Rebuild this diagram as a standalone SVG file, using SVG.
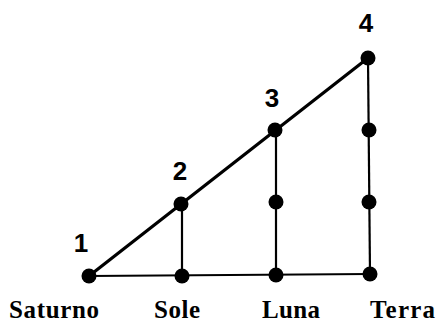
<svg xmlns="http://www.w3.org/2000/svg" width="436" height="322" viewBox="0 0 436 322">
<style>
.num{font-family:"Liberation Sans",Arial,sans-serif;font-weight:bold;font-size:26px;text-anchor:middle;fill:#000}
.lbl{font-family:"Liberation Serif","Times New Roman",serif;font-weight:bold;font-size:25px;fill:#000}
.dot{fill:#000}
.thick{stroke:#000;stroke-width:3.2;fill:none;stroke-linecap:round}
.thin{stroke:#000;stroke-width:2.2;fill:none}
</style>
<rect width="436" height="322" fill="#fff"/>
<g id="connectors">
<line class="thick" x1="89" y1="276" x2="368" y2="58"/>
<line class="thin" x1="89" y1="276" x2="370" y2="274"/>
<line class="thin" x1="182" y1="204" x2="182" y2="276"/>
<line class="thin" x1="276" y1="130" x2="276" y2="275"/>
<line class="thin" x1="368" y1="58" x2="370" y2="274"/>
</g>
<g id="saturno"><circle class="dot" cx="89" cy="276" r="7.5"/><text class="num" x="81" y="252">1</text><text class="lbl" x="9" y="318" textLength="90">Saturno</text></g>
<g id="sole"><circle class="dot" cx="181" cy="204" r="7.5"/><circle class="dot" cx="182" cy="276" r="7.5"/><text class="num" x="180" y="180">2</text><text class="lbl" x="154" y="318" textLength="46">Sole</text></g>
<g id="luna"><circle class="dot" cx="275" cy="130" r="7.5"/><circle class="dot" cx="276" cy="202" r="7.5"/><circle class="dot" cx="276" cy="275" r="7.5"/><text class="num" x="272" y="107">3</text><text class="lbl" x="262" y="318" textLength="58">Luna</text></g>
<g id="terra"><circle class="dot" cx="368" cy="58" r="7.5"/><circle class="dot" cx="369" cy="130" r="7.5"/><circle class="dot" cx="369" cy="202" r="7.5"/><circle class="dot" cx="370" cy="274" r="7.5"/><text class="num" x="366" y="32">4</text><text class="lbl" x="370" y="318" textLength="65">Terra</text></g>
</svg>
